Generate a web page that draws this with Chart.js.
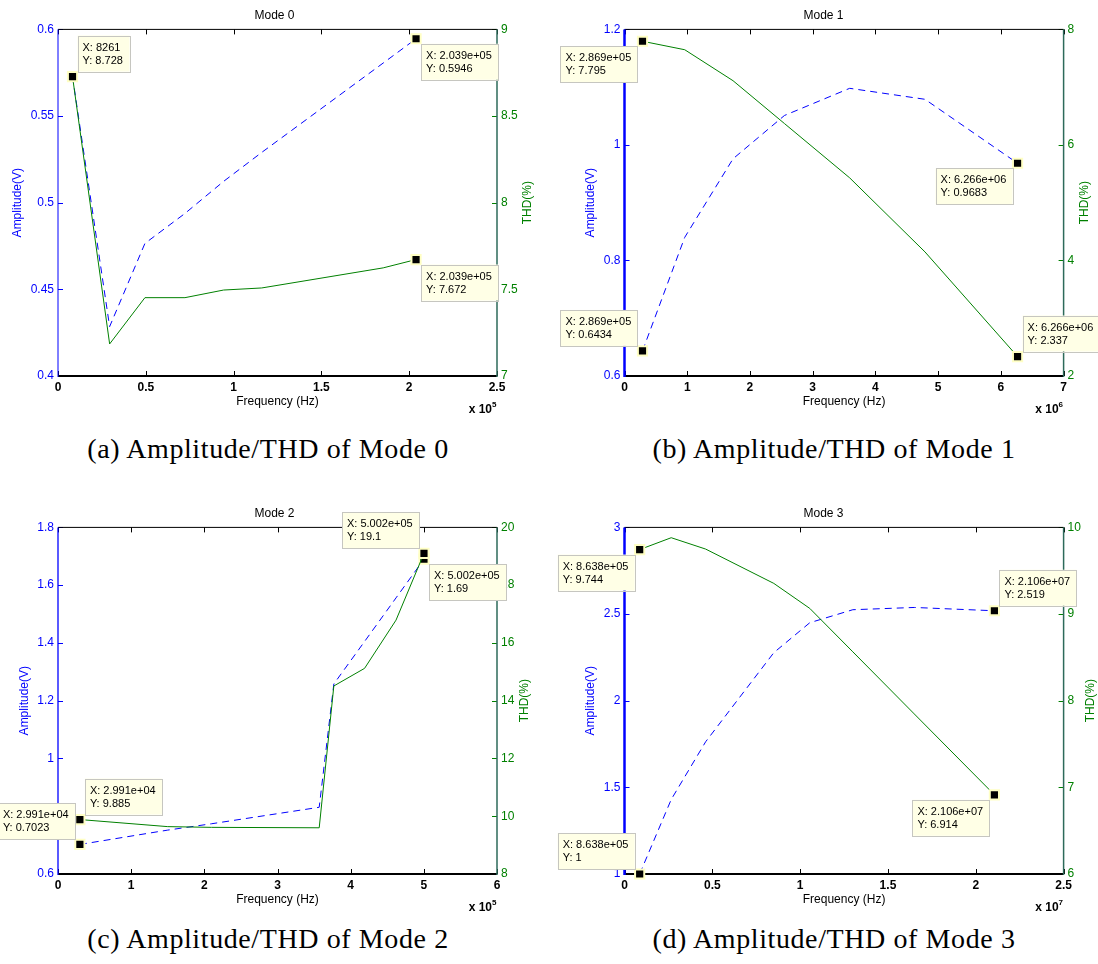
<!DOCTYPE html>
<html>
<head>
<meta charset="utf-8">
<script src="https://cdn.jsdelivr.net/npm/chart.js@4.4.1/dist/chart.umd.min.js"></script>
<style>
  body { margin: 0; background: #fff; }
  #page { position: relative; width: 1098px; height: 964px; overflow: hidden; background: #fff; }
  canvas { position: absolute; }
  .cap { position: absolute; font-family: 'Liberation Serif', 'Times New Roman', serif; font-size: 28px;
         letter-spacing: 0.6px; line-height: 28px; white-space: nowrap; transform: translateX(-50%); color: #000; }
</style>
</head>
<body>
<div id="page">
  <canvas id="c0" width="549" height="420" style="left:0;top:0"></canvas>
  <canvas id="c1" width="549" height="420" style="left:549px;top:0"></canvas>
  <canvas id="c2" width="549" height="420" style="left:0;top:498px"></canvas>
  <canvas id="c3" width="549" height="420" style="left:549px;top:498px"></canvas>
  <div class="cap" style="left:268px;top:435px">(a) Amplitude/THD of Mode 0</div>
  <div class="cap" style="left:834px;top:435px">(b) Amplitude/THD of Mode 1</div>
  <div class="cap" style="left:268px;top:925px">(c) Amplitude/THD of Mode 2</div>
  <div class="cap" style="left:834px;top:925px">(d) Amplitude/THD of Mode 3</div>
</div>
<script>
// Mode 0 (frequency in Hz)
const freq0 = [8261, 29400, 49500, 72300, 94300, 116000, 185200, 203900]
const amp0 = [0.5728, 0.4285, 0.4765, 0.4938, 0.5123, 0.529, 0.5806, 0.5946]
const thd0 = [8.728, 7.185, 7.452, 7.452, 7.496, 7.508, 7.624, 7.672]

// Mode 1
const freq1 = [286900, 960000, 1730000, 2550000, 3590000, 4790000, 6266000]
const amp1 = [0.6434, 0.84, 0.976, 1.051, 1.098, 1.079, 0.9683]
const thd1 = [7.795, 7.648, 7.112, 6.37, 5.43, 4.148, 2.337]

// Mode 2
const freq2 = [29910, 150000, 210000, 357000, 377000, 419000, 462000, 500200]
const amp2 = [0.7023, 0.752, 0.774, 0.831, 1.258, 1.405, 1.556, 1.69]
const thd2 = [9.885, 9.64, 9.615, 9.60, 14.51, 15.12, 16.79, 19.1]

// Mode 3
const freq3 = [863800, 2660000, 4620000, 8500000, 10550000, 13000000, 16500000, 21060000]
const amp3 = [1, 1.43, 1.763, 2.277, 2.45, 2.525, 2.538, 2.519]
const thd3 = [9.744, 9.881, 9.75, 9.354, 9.065, 8.564, 7.847, 6.914]

// tick values and labels
const xTicks0 = [0, 50000, 100000, 150000, 200000, 250000]
const xLabels0 = ['0', '0.5', '1', '1.5', '2', '2.5']
const ampTicks0 = [0.4, 0.45, 0.5, 0.55, 0.6]
const ampLabels0 = ['0.4', '0.45', '0.5', '0.55', '0.6']
const thdTicks0 = [7, 7.5, 8, 8.5, 9]
const thdLabels0 = ['7', '7.5', '8', '8.5', '9']

const xTicks1 = [0, 1e6, 2e6, 3e6, 4e6, 5e6, 6e6, 7e6]
const xLabels1 = ['0', '1', '2', '3', '4', '5', '6', '7']
const ampTicks1 = [0.6, 0.8, 1, 1.2]
const ampLabels1 = ['0.6', '0.8', '1', '1.2']
const thdTicks1 = [2, 4, 6, 8]
const thdLabels1 = ['2', '4', '6', '8']

const xTicks2 = [0, 1e5, 2e5, 3e5, 4e5, 5e5, 6e5]
const xLabels2 = ['0', '1', '2', '3', '4', '5', '6']
const ampTicks2 = [0.6, 0.8, 1, 1.2, 1.4, 1.6, 1.8]
const ampLabels2 = ['0.6', '0.8', '1', '1.2', '1.4', '1.6', '1.8']
const thdTicks2 = [8, 10, 12, 14, 16, 18, 20]
const thdLabels2 = ['8', '10', '12', '14', '16', '18', '20']

const xTicks3 = [0, 5e6, 1e7, 1.5e7, 2e7, 2.5e7]
const xLabels3 = ['0', '0.5', '1', '1.5', '2', '2.5']
const ampTicks3 = [1, 1.5, 2, 2.5, 3]
const ampLabels3 = ['1', '1.5', '2', '2.5', '3']
const thdTicks3 = [6, 7, 8, 9, 10]
const thdLabels3 = ['6', '7', '8', '9', '10']

const BLUE = '#0000ff'
const GREEN = '#008000'
const FONT = "'Liberation Sans', Arial, Helvetica, sans-serif"

Chart.defaults.font.family = FONT
Chart.defaults.font.size = 12
Chart.defaults.color = '#000'

// datatip number like matlab %.4g
function fmt(v) {
  const e = Math.floor(Math.log10(Math.abs(v)))
  if (e >= 4 || e < -5) {
    return v.toExponential(3).replace(/e([+-])(\d+)$/, (m, sg, d) => 'e' + sg + d.padStart(2, '0'))
  }
  return String(parseFloat(v.toPrecision(4)))
}

// box, inward ticks, axis titles, exponent, data tips
function framePlugin(p) {
  const seg = (ctx, x1, y1, x2, y2, c, w) => {
    ctx.beginPath()
    ctx.strokeStyle = c
    ctx.lineWidth = w
    ctx.moveTo(x1, y1)
    ctx.lineTo(x2, y2)
    ctx.stroke()
  }
  return {
    id: 'frame',
    beforeDatasetsDraw(chart) {
      const ctx = chart.ctx, a = chart.chartArea, s = chart.scales
      ctx.save()
      s.x.ticks.forEach(t => {
        const x = Math.round(s.x.getPixelForValue(t.value)) + 0.5
        seg(ctx, x, a.bottom, x, a.bottom - 5, '#000', 1)
        seg(ctx, x, a.top, x, a.top + 5, '#000', 1)
      })
      s.yA.ticks.forEach(t => {
        const y = Math.round(s.yA.getPixelForValue(t.value)) + 0.5
        seg(ctx, a.left, y, a.left + 5, y, BLUE, 1)
      })
      s.yT.ticks.forEach(t => {
        const y = Math.round(s.yT.getPixelForValue(t.value)) + 0.5
        seg(ctx, a.right, y, a.right - 5, y, GREEN, 1)
      })
      seg(ctx, a.left, a.top, a.right, a.top, '#000', 1)
      seg(ctx, a.left, a.bottom, a.right, a.bottom, '#000', 2)
      seg(ctx, a.left, a.top, a.left, a.bottom + 1, BLUE, p.leftW)
      seg(ctx, a.right, a.top, a.right, a.bottom + 1, '#2d6a5a', 1.5)
      ctx.restore()
    },
    afterDraw(chart) {
      const ctx = chart.ctx, a = chart.chartArea
      ctx.save()
      ctx.font = '12px ' + FONT
      const midY = (a.top + a.bottom) / 2
      const wA = Math.max(...p.ampLabels.map(l => ctx.measureText(l).width))
      const wT = Math.max(...p.thdLabels.map(l => ctx.measureText(l).width))
      ctx.textAlign = 'center'
      ctx.textBaseline = 'middle'
      ctx.save()
      ctx.translate(a.left - wA - 17, midY)
      ctx.rotate(-Math.PI / 2)
      ctx.fillStyle = BLUE
      ctx.fillText('Amplitude(V)', 0, 0)
      ctx.restore()
      ctx.save()
      ctx.translate(a.right + wT + 14, midY)
      ctx.rotate(-Math.PI / 2)
      ctx.fillStyle = GREEN
      ctx.fillText('THD(%)', 0, 0)
      ctx.restore()
      // x 10^n
      ctx.fillStyle = '#000'
      ctx.textBaseline = 'alphabetic'
      ctx.textAlign = 'right'
      ctx.font = 'bold 12px ' + FONT
      ctx.fillText('x 10', a.right - 5, a.bottom + 37)
      ctx.textAlign = 'left'
      ctx.font = 'bold 8px ' + FONT
      ctx.fillText(p.exp, a.right - 5, a.bottom + 31)
      // data tips
      ctx.font = '11px ' + FONT
      p.tips.forEach(t => {
        const ds = t.set === 'thd' ? 0 : 1
        const el = chart.getDatasetMeta(ds).data[t.i]
        const src = t.set === 'thd' ? p.thd : p.amp
        const lines = ['X: ' + fmt(p.freq[t.i]), 'Y: ' + fmt(src[t.i])]
        const w = Math.ceil(Math.max(...lines.map(l => ctx.measureText(l).width))) + 11
        const h = 36, g = 5
        const bx = t.dir[1] === 'e' ? el.x + g : el.x - g - w
        const by = t.dir[0] === 'n' ? el.y - g - h : el.y + g
        ctx.fillStyle = '#ffffe6'
        ctx.fillRect(bx, by, w, h)
        ctx.strokeStyle = '#c6c6c0'
        ctx.lineWidth = 1
        ctx.strokeRect(Math.round(bx) + 0.5, Math.round(by) + 0.5, w, h)
        ctx.fillStyle = '#000'
        ctx.textAlign = 'left'
        ctx.fillText(lines[0], bx + 5, by + 15)
        ctx.fillText(lines[1], bx + 5, by + 28)
      })
      ctx.restore()
    }
  }
}

function drawPanel(p) {
  const canvas = document.getElementById(p.id)
  const W = canvas.width, H = canvas.height
  const pts = ys => p.freq.map((f, i) => ({ x: f, y: ys[i] }))
  const tipIdx = set => p.tips.filter(t => t.set === set).map(t => t.i)
  const thdTips = tipIdx('thd'), ampTips = tipIdx('amp')
  const marker = {
    pointStyle: 'rect', pointBackgroundColor: '#000', pointBorderColor: '#ffffc4', pointBorderWidth: 2,
    pointHoverRadius: 0, clip: false, tension: 0, showLine: true, borderWidth: 1
  }
  new Chart(canvas, {
    type: 'scatter',
    data: {
      datasets: [
        Object.assign({ label: 'THD(%)', data: pts(p.thd), yAxisID: 'yT', borderColor: GREEN,
          pointRadius: c => thdTips.includes(c.dataIndex) ? 6.5 : 0 }, marker),
        Object.assign({ label: 'Amplitude(V)', data: pts(p.amp), yAxisID: 'yA', borderColor: BLUE,
          borderDash: [7, 5], pointRadius: c => ampTips.includes(c.dataIndex) ? 6.5 : 0 }, marker)
      ]
    },
    options: {
      responsive: false,
      animation: false,
      events: [],
      layout: { padding: 0 },
      plugins: {
        legend: { display: false },
        tooltip: { enabled: false },
        title: { display: true, text: p.title, color: '#000', font: { size: 12, weight: 'normal' },
          padding: { top: 8, bottom: 7 } }
      },
      scales: {
        x: {
          type: 'linear', min: p.xTicks[0], max: p.xTicks[p.xTicks.length - 1],
          afterBuildTicks: sc => { sc.ticks = p.xTicks.map(v => ({ value: v })) },
          afterFit: sc => { sc.height = H - p.bottom },
          grid: { display: false, drawTicks: false }, border: { display: false },
          ticks: { callback: (v, i) => p.xLabels[i], autoSkip: false, maxRotation: 0, padding: 4,
            color: '#000', font: { weight: 'bold' } },
          title: { display: true, text: 'Frequency (Hz)', color: '#000', padding: { top: 0, bottom: 11 } }
        },
        yA: {
          type: 'linear', position: 'left', min: p.ampTicks[0], max: p.ampTicks[p.ampTicks.length - 1],
          afterBuildTicks: sc => { sc.ticks = p.ampTicks.map(v => ({ value: v })) },
          afterFit: sc => { sc.width = p.left },
          grid: { display: false, drawTicks: false }, border: { display: false },
          ticks: { callback: (v, i) => p.ampLabels[i], autoSkip: false, padding: 4, color: BLUE }
        },
        yT: {
          type: 'linear', position: 'right', min: p.thdTicks[0], max: p.thdTicks[p.thdTicks.length - 1],
          afterBuildTicks: sc => { sc.ticks = p.thdTicks.map(v => ({ value: v })) },
          afterFit: sc => { sc.width = W - p.right },
          grid: { display: false, drawTicks: false }, border: { display: false },
          ticks: { callback: (v, i) => p.thdLabels[i], autoSkip: false, padding: 4, color: GREEN }
        }
      }
    },
    plugins: [framePlugin(p)]
  })
}

drawPanel({ id: 'c0', title: 'Mode 0', freq: freq0, amp: amp0, thd: thd0,
  xTicks: xTicks0, xLabels: xLabels0, ampTicks: ampTicks0, ampLabels: ampLabels0, thdTicks: thdTicks0, thdLabels: thdLabels0,
  exp: '5', left: 58, right: 497, bottom: 376, leftW: 1,
  tips: [{ set: 'thd', i: 0, dir: 'ne' }, { set: 'amp', i: 7, dir: 'se' }, { set: 'thd', i: 7, dir: 'se' }] })

drawPanel({ id: 'c1', title: 'Mode 1', freq: freq1, amp: amp1, thd: thd1,
  xTicks: xTicks1, xLabels: xLabels1, ampTicks: ampTicks1, ampLabels: ampLabels1, thdTicks: thdTicks1, thdLabels: thdLabels1,
  exp: '6', left: 75.5, right: 514.6, bottom: 376, leftW: 2.5,
  tips: [{ set: 'thd', i: 0, dir: 'sw' }, { set: 'amp', i: 0, dir: 'nw' }, { set: 'amp', i: 6, dir: 'sw' }, { set: 'thd', i: 6, dir: 'ne' }] })

drawPanel({ id: 'c2', title: 'Mode 2', freq: freq2, amp: amp2, thd: thd2,
  xTicks: xTicks2, xLabels: xLabels2, ampTicks: ampTicks2, ampLabels: ampLabels2, thdTicks: thdTicks2, thdLabels: thdLabels2,
  exp: '5', left: 58, right: 497, bottom: 376, leftW: 1.3,
  tips: [{ set: 'thd', i: 0, dir: 'ne' }, { set: 'amp', i: 0, dir: 'nw' }, { set: 'thd', i: 7, dir: 'nw' }, { set: 'amp', i: 7, dir: 'se' }] })

drawPanel({ id: 'c3', title: 'Mode 3', freq: freq3, amp: amp3, thd: thd3,
  xTicks: xTicks3, xLabels: xLabels3, ampTicks: ampTicks3, ampLabels: ampLabels3, thdTicks: thdTicks3, thdLabels: thdLabels3,
  exp: '7', left: 75.5, right: 514.6, bottom: 376, leftW: 2.5,
  tips: [{ set: 'thd', i: 0, dir: 'sw' }, { set: 'amp', i: 0, dir: 'nw' }, { set: 'amp', i: 7, dir: 'ne' }, { set: 'thd', i: 7, dir: 'sw' }] })
</script>
</body>
</html>
